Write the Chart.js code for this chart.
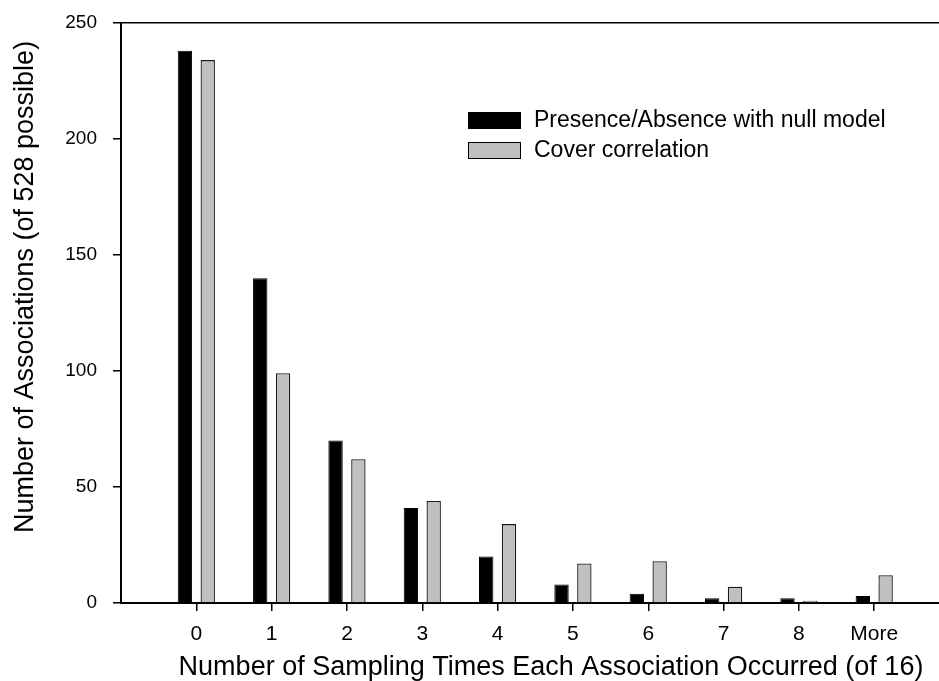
<!DOCTYPE html>
<html lang="en">
<head>
    <meta charset="UTF-8" />
    <title>Associations per sampling time</title>
    <script src="https://cdn.jsdelivr.net/npm/chart.js"></script>
    <style>
        body { margin: 0; background: white; overflow: hidden; }
        #wrap { width: 939px; height: 681px; position: relative; }
    </style>
</head>
<body>
    <div id="wrap"><canvas id="histChart"></canvas></div>

    <script>
        // values
        const categories = ['0', '1', '2', '3', '4', '5', '6', '7', '8', 'More'];
        const presenceAbsence = [238, 140, 70, 41, 20, 8, 4, 2, 2, 3];
        const coverCorrelation = [234, 99, 62, 44, 34, 17, 18, 7, 1, 12];
        const yTicks = [0, 50, 100, 150, 200, 250];
        const seriesNames = ['Presence/Absence with null model', 'Cover correlation'];

        const xTitle = 'Number of Sampling Times Each Association Occurred (of 16)';
        const yTitle = 'Number of Associations (of 528 possible)';
        const fontFamily = '"Liberation Sans", Arial, sans-serif';

        function toPoints(arr) {
            return arr.map((v, i) => ({ x: i, y: v }));
        }

        // legend + axis titles drawn by hand so they sit where the original has them
        const extras = {
            id: 'extras',
            afterDraw(chart) {
                const ctx = chart.ctx;
                ctx.save();
                ctx.fillStyle = '#000';

                // x title
                ctx.font = '27px ' + fontFamily;
                ctx.textAlign = 'center';
                ctx.textBaseline = 'alphabetic';
                ctx.fillText(xTitle, 551, 675);

                // y title
                ctx.translate(33, 287);
                ctx.rotate(-Math.PI / 2);
                ctx.fillText(yTitle, 0, 0);
                ctx.setTransform(1, 0, 0, 1, 0, 0);

                // legend
                ctx.font = '23px ' + fontFamily;
                ctx.textAlign = 'left';
                ctx.textBaseline = 'middle';
                chart.data.datasets.forEach((ds, i) => {
                    const y = 112 + i * 30;
                    ctx.fillStyle = ds.backgroundColor;
                    ctx.fillRect(468, y, 53, 17);
                    ctx.strokeStyle = '#000';
                    ctx.lineWidth = 1;
                    ctx.strokeRect(468.5, y + 0.5, 52, 16);
                    ctx.fillStyle = '#000';
                    ctx.fillText(ds.label, 534, y + 9);
                });
                ctx.restore();
            }
        };

        const chart = new Chart(document.getElementById('histChart'), {
            type: 'bar',
            data: {
                datasets: [
                    { label: seriesNames[0], data: toPoints(presenceAbsence), backgroundColor: '#000000', borderColor: '#000000', borderWidth: 1 },
                    { label: seriesNames[1], data: toPoints(coverCorrelation), backgroundColor: '#c0c0c0', borderColor: '#1a1a1a', borderWidth: 1.3 }
                ]
            },
            options: {
                responsive: true,
                maintainAspectRatio: false,
                animation: false,
                categoryPercentage: 0.606,
                barPercentage: 0.63,
                layout: { padding: { top: 23, right: 0, bottom: 0, left: 0 } },
                plugins: {
                    legend: { display: false },
                    tooltip: { enabled: false }
                },
                scales: {
                    x: {
                        type: 'linear',
                        min: -1,
                        max: 9.86,
                        offset: false,
                        afterFit(scale) { scale.height = 78; },
                        afterBuildTicks(scale) {
                            scale.ticks = categories.map((c, i) => ({ value: i }));
                        },
                        grid: { offset: false, drawOnChartArea: false, tickLength: 8, color: '#000', lineWidth: 1.5 },
                        border: { color: '#000', width: 2 },
                        ticks: {
                            color: '#000',
                            padding: 11,
                            maxRotation: 0,
                            autoSkip: false,
                            font: { family: fontFamily, size: 21 },
                            callback: (v) => categories[v]
                        }
                    },
                    y: {
                        min: 0,
                        max: 250,
                        afterFit(scale) {
                            scale.width = 121;
                            scale.paddingTop = 0;
                            scale.paddingBottom = 0;
                        },
                        afterBuildTicks(scale) {
                            scale.ticks = yTicks.map(v => ({ value: v }));
                        },
                        grid: {
                            tickLength: 8,
                            lineWidth: 1.5,
                            tickColor: '#000',
                            color: (c) => (c.tick && c.tick.value === 250 ? '#000' : 'rgba(0,0,0,0)')
                        },
                        border: { color: '#000', width: 2 },
                        ticks: {
                            color: '#000',
                            padding: 16,
                            font: { family: fontFamily, size: 19 }
                        }
                    }
                }
            },
            plugins: [extras]
        });
    </script>
</body>
</html>
